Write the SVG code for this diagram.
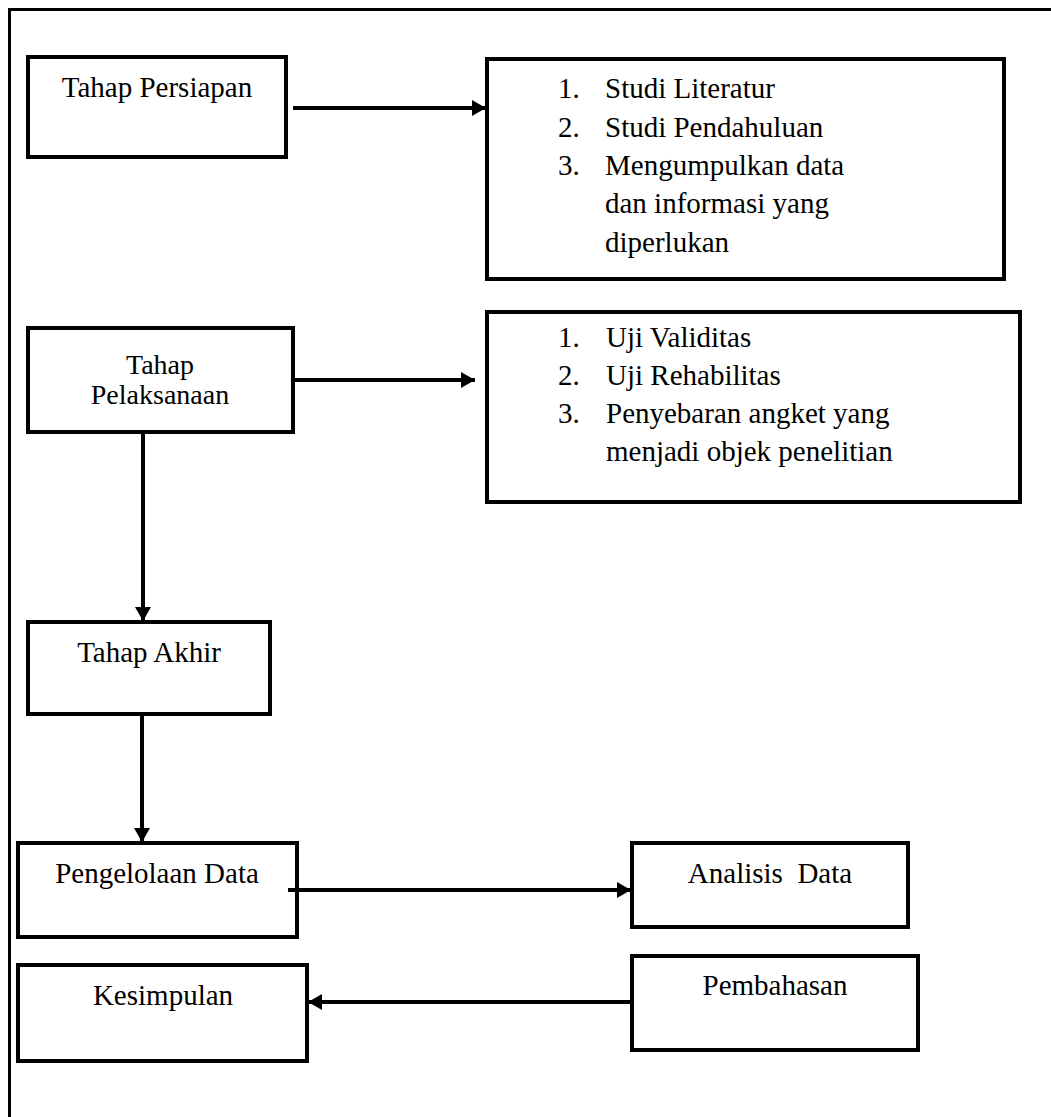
<svg xmlns="http://www.w3.org/2000/svg" width="1051" height="1117" viewBox="0 0 1051 1117">
<style>
.box{fill:#fff;stroke:#000;stroke-width:4}
.frame{fill:none;stroke:#000;stroke-width:3}
.conn{fill:none;stroke:#000;stroke-width:4}
text{font-family:"Liberation Serif","Times New Roman",serif;font-size:29px;fill:#000}
.c{text-anchor:middle}
.s{font-size:28px}
</style>
<defs>
<marker id="ah" markerUnits="userSpaceOnUse" markerWidth="14" markerHeight="16" refX="14" refY="8" orient="auto">
<path d="M0,0 L14,8 L0,16 z" fill="#000"/>
</marker>
</defs>
<rect width="1051" height="1117" fill="#fff"/>
<path class="frame" d="M9.5,1117 V9.5 H1051"/>
<g id="persiapan"><rect class="box" x="28" y="57" width="258" height="100"/><text class="c" x="157" y="97">Tahap Persiapan</text></g>
<g id="list1"><rect class="box" x="487" y="59" width="517" height="220"/>
<text x="558" y="98">1.</text><text x="605" y="98">Studi Literatur</text>
<text x="558" y="137">2.</text><text x="605" y="137">Studi Pendahuluan</text>
<text x="558" y="175">3.</text><text x="605" y="175">Mengumpulkan data</text>
<text x="605" y="213">dan informasi yang</text>
<text x="605" y="252">diperlukan</text></g>
<g id="pelaksanaan"><rect class="box" x="28" y="328" width="265" height="104"/><text class="c s" x="160" y="374">Tahap</text><text class="c s" x="160" y="404">Pelaksanaan</text></g>
<g id="list2"><rect class="box" x="487" y="312" width="533" height="190"/>
<text x="558" y="347">1.</text><text x="606" y="347">Uji Validitas</text>
<text x="558" y="385">2.</text><text x="606" y="385">Uji Rehabilitas</text>
<text x="558" y="423">3.</text><text x="606" y="423">Penyebaran angket yang</text>
<text x="606" y="461">menjadi objek penelitian</text></g>
<g id="akhir"><rect class="box" x="28" y="622" width="242" height="92"/><text class="c" x="149" y="662">Tahap Akhir</text></g>
<g id="pengelolaan"><rect class="box" x="18" y="843" width="279" height="94"/><text class="c" x="157" y="883">Pengelolaan Data</text></g>
<g id="analisis"><rect class="box" x="632" y="843" width="276" height="84"/><text class="c" x="770" y="883" xml:space="preserve">Analisis  Data</text></g>
<g id="kesimpulan"><rect class="box" x="18" y="965" width="289" height="96"/><text class="c" x="163" y="1005">Kesimpulan</text></g>
<g id="pembahasan"><rect class="box" x="632" y="956" width="286" height="94"/><text class="c" x="775" y="995">Pembahasan</text></g>
<g id="connectors">
<line class="conn" x1="293" y1="108" x2="486" y2="108" marker-end="url(#ah)"/>
<line class="conn" x1="293" y1="380" x2="475" y2="380" marker-end="url(#ah)"/>
<line class="conn" x1="143" y1="432" x2="143" y2="621" marker-end="url(#ah)"/>
<line class="conn" x1="142" y1="714" x2="142" y2="842" marker-end="url(#ah)"/>
<line class="conn" x1="288" y1="890" x2="631" y2="890" marker-end="url(#ah)"/>
<line class="conn" x1="632" y1="1002" x2="308" y2="1002" marker-end="url(#ah)"/>
</g>
</svg>
